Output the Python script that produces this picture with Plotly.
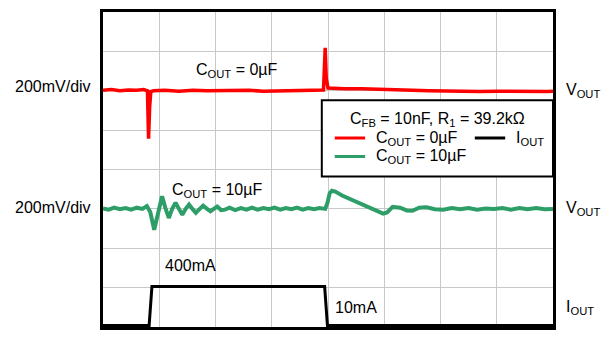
import plotly.graph_objects as go

# time axis in divisions (8 div across), amplitude in divisions (8 div tall)
red_x = [0, 0.15, 0.3, 0.45, 0.6, 0.72, 0.79, 0.81, 0.83, 0.85, 0.9, 1.1, 1.35, 1.6, 1.85, 2.1,
         2.35, 2.6, 2.85, 3.1, 3.35, 3.6, 3.8, 3.92, 3.95, 3.97, 4.0, 4.08, 4.3, 4.6, 4.9, 5.2,
         5.5, 5.8, 6.1, 6.4, 6.7, 7.0, 7.3, 7.6, 7.9, 8.0]
red_y = [6.01, 6.03, 6.0, 6.02, 6.01, 6.03, 6.0, 4.78, 5.6, 5.98, 6.0, 6.01, 5.99, 6.01, 6.0, 6.01,
         6.0, 6.01, 5.99, 6.0, 6.01, 6.0, 6.01, 6.02, 7.09, 6.3, 6.07, 6.06, 6.05, 6.05, 6.03, 6.02,
         6.01, 6.0, 5.99, 5.99, 5.98, 5.99, 5.98, 5.99, 5.98, 5.99]

grn_x = [0, 0.1, 0.2, 0.3, 0.4, 0.5, 0.6, 0.7, 0.78, 0.84, 0.91, 0.98, 1.05, 1.11, 1.17, 1.23,
         1.29, 1.35, 1.41, 1.47, 1.53, 1.59, 1.65, 1.72, 1.78, 1.85, 1.91, 1.97, 2.03, 2.1, 2.17,
         2.25, 2.35, 2.45, 2.55, 2.65, 2.75, 2.85, 2.95, 3.05, 3.15, 3.25, 3.35, 3.45, 3.55, 3.65,
         3.75, 3.85, 3.95, 3.99, 4.03, 4.07, 4.13, 4.25, 4.4, 4.55, 4.7, 4.85, 4.98, 5.05, 5.15,
         5.28, 5.4, 5.5, 5.62, 5.75, 5.9, 6.05, 6.2, 6.35, 6.5, 6.65, 6.8, 6.95, 7.1, 7.25, 7.4,
         7.55, 7.7, 7.85, 8.0]
grn_y = [3.01, 2.98, 3.03, 2.99, 3.02, 2.98, 3.03, 3.0, 3.07, 2.92, 2.47, 2.95, 3.32, 3.02, 2.77, 3.0,
         3.16, 3.0, 2.85, 3.0, 3.11, 3.0, 2.9, 3.0, 3.08, 3.0, 2.94, 3.0, 3.06, 2.97, 2.98,
         3.03, 2.97, 3.02, 2.98, 3.03, 2.98, 3.02, 2.99, 3.03, 2.98, 3.02, 2.99, 3.03, 2.98, 3.02,
         2.99, 3.02, 3.0, 3.15, 3.4, 3.46, 3.44, 3.34, 3.25, 3.16, 3.06, 2.96, 2.88, 2.91, 3.05,
         3.03, 2.96, 2.95, 3.03, 3.04, 2.99, 2.98, 3.02, 2.99, 3.02, 2.98, 3.01, 3.0, 3.02, 2.98,
         3.02, 2.99, 3.02, 2.99, 3.0]

blk_x = [0, 0.82, 0.87, 3.94, 3.99, 8.0]
blk_y = [0.04, 0.04, 1.03, 1.03, 0.04, 0.04]

RED = '#ff0000'
GREEN = '#2e9e68'
FONT = 'Liberation Sans, Arial, sans-serif'

fig = go.Figure()
fig.add_trace(go.Scatter(x=red_x, y=red_y, mode='lines', line=dict(color=RED, width=3.5)))
fig.add_trace(go.Scatter(x=grn_x, y=grn_y, mode='lines', line=dict(color=GREEN, width=4)))
fig.add_trace(go.Scatter(x=blk_x, y=blk_y, mode='lines', line=dict(color='black', width=3)))

ax = dict(range=[0, 8], dtick=1, showgrid=True, gridcolor='#c8c8c8', gridwidth=1,
          showticklabels=False, ticks='', zeroline=False, showline=True, linecolor='black',
          linewidth=3, mirror=True, fixedrange=True)
fig.update_xaxes(**ax)
fig.update_yaxes(**ax)

# legend box drawn by hand
fig.add_shape(type='rect', x0=3.89, x1=8.0, y0=3.82, y1=5.76, fillcolor='white',
              line=dict(color='black', width=2), layer='above')
fig.add_shape(type='line', x0=4.12, x1=4.66, y0=4.80, y1=4.80, line=dict(color=RED, width=3), layer='above')
fig.add_shape(type='line', x0=4.12, x1=4.66, y0=4.33, y1=4.33, line=dict(color=GREEN, width=3), layer='above')
fig.add_shape(type='line', x0=6.61, x1=7.15, y0=4.80, y1=4.80, line=dict(color='black', width=3), layer='above')

f = dict(family=FONT, size=16, color='black')
notes = [
    (5.94, 5.26, 'C<sub>FB</sub> = 10nF, R<sub>1</sub> = 39.2kΩ', 'center', 'x'),
    (4.82, 4.80, 'C<sub>OUT</sub> = 0µF', 'left', 'x'),
    (4.82, 4.33, 'C<sub>OUT</sub> = 10µF', 'left', 'x'),
    (7.30, 4.80, 'I<sub>OUT</sub>', 'left', 'x'),
    (2.38, 6.52, 'C<sub>OUT</sub> = 0µF', 'center', 'x'),
    (2.03, 3.47, 'C<sub>OUT</sub> = 10µF', 'center', 'x'),
    (1.55, 1.56, '400mA', 'center', 'x'),
    (4.08, 0.50, '10mA', 'left', 'x'),
    (1.025, 6.0, 'V<sub>OUT</sub>', 'left', 'paper'),
    (1.025, 3.0, 'V<sub>OUT</sub>', 'left', 'paper'),
    (1.025, 0.5, 'I<sub>OUT</sub>', 'left', 'paper'),
    (-0.022, 6.11, '200mV/div', 'right', 'paper'),
    (-0.022, 3.04, '200mV/div', 'right', 'paper'),
]
for x, y, t, anc, xr in notes:
    fig.add_annotation(x=x, y=y, xref=xr, yref='y', text=t, showarrow=False,
                       xanchor=anc, yanchor='middle', font=f)

fig.update_layout(width=607, height=339, showlegend=False, plot_bgcolor='white',
                  paper_bgcolor='white', margin=dict(l=103, r=54, t=9, b=12))

fig.write_html("out.html", config={'displayModeBar': False},
               post_script="document.body.style.margin='0';")
